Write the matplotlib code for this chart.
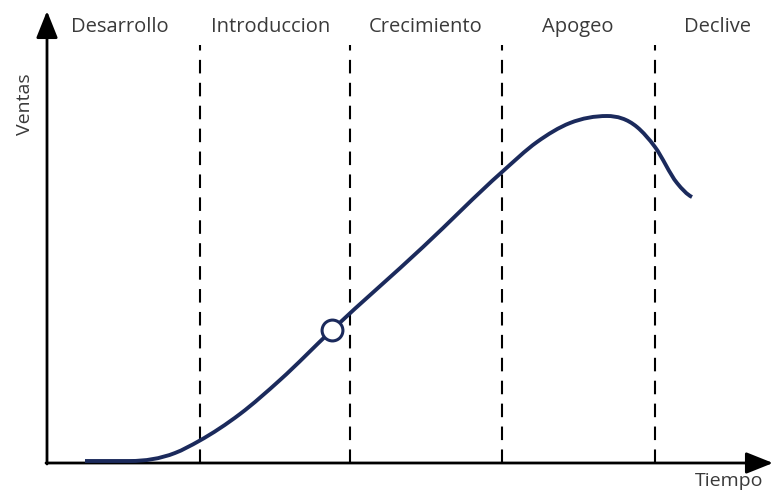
import matplotlib
matplotlib.use("Agg")
import matplotlib.pyplot as plt
import numpy as np
from matplotlib.path import Path
from matplotlib.patches import PathPatch

# Sales curve readings (time, sales)
tiempo = [38, 83, 128, 152, 193, 233, 285, 376, 455, 490, 523, 560, 590, 608, 630, 645]
ventas = [2, 2, 10, 22, 49, 83, 133, 216, 291, 321, 340, 347, 336, 316, 280, 266]
punto = (285, 133)  # highlighted point on the curve

etapas = ["Desarrollo", "Introduccion", "Crecimiento", "Apogeo", "Declive"]
limites = [153, 303, 455, 608]
centros = [73, 224, 379, 531, 671]

curve_color = "#1b2a5c"
text_color = "#3a3a3a"

fig = plt.figure(figsize=(7.75, 4.96), dpi=100)
ax = fig.add_axes([0, 0, 1, 1])
ax.set_xlim(-47, 728)
ax.set_ylim(-33, 463)
ax.axis("off")

# Axes with arrows
style = "-|>,head_length=0.75,head_width=0.3"
ax.annotate("", xy=(0, 452), xytext=(0, -1),
            arrowprops=dict(arrowstyle=style, lw=2, color="black",
                            mutation_scale=22, shrinkA=0, shrinkB=0))
ax.annotate("", xy=(726, 0), xytext=(-1, 0),
            arrowprops=dict(arrowstyle=style, lw=2, color="black",
                            mutation_scale=22, shrinkA=0, shrinkB=0))

# Stage boundaries
for x in limites:
    ax.plot([x, x], [0, 418], color="black", lw=1.5, dashes=(6.5, 4.5))

# Stage labels
for c, name in zip(centros, etapas):
    ax.text(c, 436, name, ha="center", va="center", fontsize=14.5,
            family="Open Sans", color=text_color)

ax.text(-22, 359, "Ventas", rotation=90, ha="center", va="center",
        fontsize=14, family="Open Sans", color=text_color)
ax.text(682, -18, "Tiempo", ha="center", va="center",
        fontsize=14, family="Open Sans", color=text_color)

# Smooth curve through the readings (cubic Bezier segments drawn by matplotlib)
xs = np.asarray(tiempo, float)
ys = np.asarray(ventas, float)
h = np.diff(xs)
d = np.diff(ys) / h
m = np.empty_like(xs)
m[0] = 0.0
m[-1] = d[-1] * 0.5
for i in range(1, len(xs) - 1):
    if d[i - 1] * d[i] <= 0:
        m[i] = 0.0
    else:
        m[i] = (d[i - 1] * h[i] + d[i] * h[i - 1]) / (h[i - 1] + h[i])
verts = [(xs[0], ys[0])]
codes = [Path.MOVETO]
for i in range(len(xs) - 1):
    verts += [(xs[i] + h[i] / 3, ys[i] + m[i] * h[i] / 3),
              (xs[i + 1] - h[i] / 3, ys[i + 1] - m[i + 1] * h[i] / 3),
              (xs[i + 1], ys[i + 1])]
    codes += [Path.CURVE4] * 3
ax.add_patch(PathPatch(Path(verts, codes), fill=False, edgecolor=curve_color,
                       lw=2.8, capstyle="butt", joinstyle="round", zorder=3))

ax.plot([punto[0]], [punto[1]], marker="o", markersize=15, markerfacecolor="white",
        markeredgecolor=curve_color, markeredgewidth=2.2, zorder=4)

fig.savefig("out.png", dpi=100)
